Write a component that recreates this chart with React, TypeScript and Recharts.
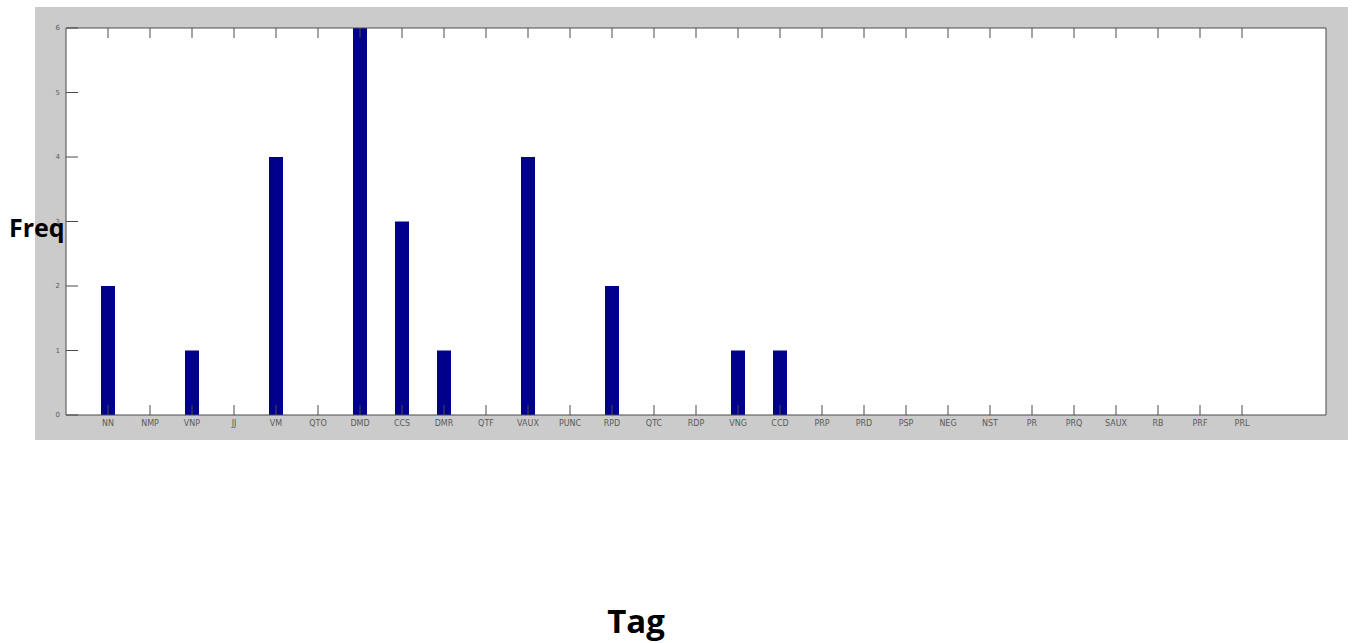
import React from 'react';
import { ComposedChart, Bar, XAxis, YAxis, CartesianGrid, Label } from 'recharts';

const categories = ['NN', 'NMP', 'VNP', 'JJ', 'VM', 'QTO', 'DMD', 'CCS', 'DMR', 'QTF', 'VAUX', 'PUNC', 'RPD', 'QTC', 'RDP', 'VNG', 'CCD', 'PRP', 'PRD', 'PSP', 'NEG', 'NST', 'PR', 'PRQ', 'SAUX', 'RB', 'PRF', 'PRL'];
const freqValues = [2, 0, 1, 0, 4, 0, 6, 3, 1, 0, 4, 0, 2, 0, 0, 1, 1, 0, 0, 0, 0, 0, 0, 0, 0, 0, 0, 0];
const yTicks = [0, 1, 2, 3, 4, 5, 6];

const data = categories.map((tag, i) => ({ tag, freq: freqValues[i] }));

const AXIS = '#4a4a4a';
const TICKTEXT = '#5a5a5a';
const TL = 10;

const BottomTick = (p: any) => (
  <g>
    <line x1={p.x} y1={p.y} x2={p.x} y2={p.y - TL} stroke={AXIS} strokeWidth={1} />
    <text x={p.x} y={p.y + 11} textAnchor="middle" fontSize={8} fill={TICKTEXT} fontFamily="DejaVu Sans">
      {p.payload.value}
    </text>
  </g>
);
const TopTick = (p: any) => (
  <line x1={p.x} y1={p.y} x2={p.x} y2={p.y + TL} stroke={AXIS} strokeWidth={1} />
);
const LeftTick = (p: any) => (
  <g>
    <line x1={p.x} y1={p.y} x2={p.x + 12} y2={p.y} stroke={AXIS} strokeWidth={1} />
    <text x={p.x - 6} y={p.y + 2} textAnchor="end" fontSize={7} fill={TICKTEXT} fontFamily="DejaVu Sans">
      {p.payload.value}
    </text>
  </g>
);
const RightTick = (p: any) => (
  <line x1={p.x} y1={p.y} x2={p.x - 12} y2={p.y} stroke={AXIS} strokeWidth={1} />
);

export default function App() {
  return (
    <div style={{ position: 'absolute', left: 0, top: 0, width: 1353, height: 643, background: '#fff', overflow: 'hidden' }}>
      <div style={{ position: 'absolute', left: 35, top: 7, width: 1313, height: 433, background: '#cbcbcb' }} />
      <div style={{ position: 'absolute', left: 0, top: 0 }}>
        <ComposedChart width={1353} height={643} data={data} margin={{ top: 0, right: 0, bottom: 0, left: 0 }}>
          <CartesianGrid horizontal={false} vertical={false} fill="#ffffff" fillOpacity={1} />
          <XAxis
            dataKey="tag"
            xAxisId="bottom"
            orientation="bottom"
            height={228}
            padding={{ left: 21, right: 63 }}
            interval={0}
            tickSize={0}
            tickMargin={0}
            tickLine={false}
            axisLine={{ stroke: AXIS }}
            tick={<BottomTick />}
          >
            <Label value="Tag" position="insideBottom" offset={10} dx={-60} fontSize={33} fontWeight={700} fill="#000" fontFamily="Open Sans" />
          </XAxis>
          <XAxis
            dataKey="tag"
            xAxisId="top"
            orientation="top"
            height={28}
            padding={{ left: 21, right: 63 }}
            interval={0}
            tickSize={0}
            tickMargin={0}
            tickLine={false}
            axisLine={{ stroke: AXIS }}
            tick={<TopTick />}
          />
          <YAxis
            yAxisId="left"
            orientation="left"
            width={66}
            type="number"
            domain={[0, 6]}
            ticks={yTicks}
            interval={0}
            tickSize={0}
            tickMargin={0}
            tickLine={false}
            axisLine={{ stroke: AXIS }}
            tick={<LeftTick />}
          >
            <Label value="Freq" position="insideLeft" offset={9} dy={7} fontSize={25} fontWeight={700} fill="#000" fontFamily="Open Sans" />
          </YAxis>
          <YAxis
            yAxisId="right"
            orientation="right"
            width={27}
            type="number"
            domain={[0, 6]}
            ticks={yTicks}
            interval={0}
            tickSize={0}
            tickMargin={0}
            tickLine={false}
            axisLine={{ stroke: AXIS }}
            tick={<RightTick />}
          />
          <Bar dataKey="freq" xAxisId="bottom" yAxisId="left" fill="#00008c" barSize={14} isAnimationActive={false} />
        </ComposedChart>
      </div>
    </div>
  );
}
